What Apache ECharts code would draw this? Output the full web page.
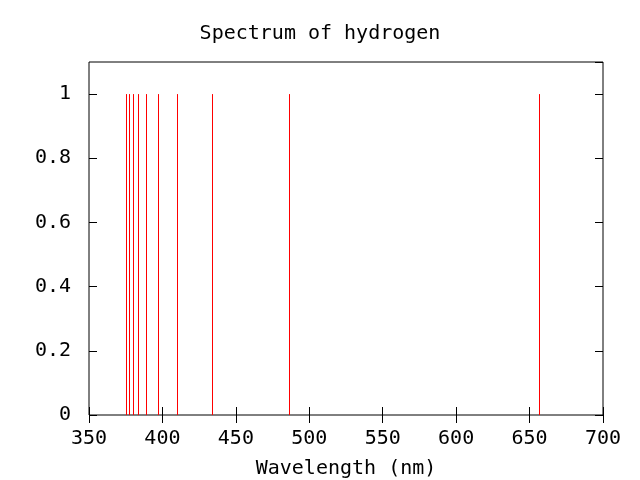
<!DOCTYPE html>
<html>
<head>
<meta charset="utf-8">
<script src="https://cdn.jsdelivr.net/npm/echarts@6/dist/echarts.min.js"></script>
<style>
    html, body { margin: 0; padding: 0; background: #fff; }
    #chart { width: 640px; height: 480px; }
</style>
</head>
<body>
<div id="chart"></div>
<script>
// Balmer lines (nm) and their relative height
const wavelengths = [656.3, 486.1, 434.0, 410.2, 397.0, 388.9, 383.5, 379.8, 377.1, 375.0];
const intensities = [1, 1, 1, 1, 1, 1, 1, 1, 1, 1];

const fontName = "DejaVu Sans Mono";
const fontSize = 20;

let lineData = [];
for (let i = 0; i < wavelengths.length; i++) {
    lineData.push([wavelengths[i], intensities[i]]);
}

// gnuplot style ticks: inward, on all four sides
function tickAxis(showLabels, margin, showMax) {
    return {
        axisLine: { show: false },
        axisTick: { show: true, inside: true, length: 8, lineStyle: { color: '#000', width: 1 } },
        axisLabel: {
            show: showLabels, margin: margin, showMaxLabel: showMax, showMinLabel: true,
            color: '#000', fontFamily: fontName, fontSize: fontSize,
        },
        splitLine: { show: false },
    };
}

var myChart = echarts.init(document.getElementById('chart'));
var option = {
    backgroundColor: '#fff',
    animation: false,
    title: {
        text: 'Spectrum of hydrogen',
        left: 'center',
        top: 19,
        textStyle: { color: '#000', fontFamily: fontName, fontSize: fontSize, fontWeight: 'normal' },
    },
    grid: {
        left: 89, right: 37, top: 62, bottom: 65,
        outerBoundsMode: 'none',
        containLabel: false,
        show: true, borderColor: '#000', borderWidth: 1,
    },
    xAxis: [
        Object.assign(tickAxis(true, 14, true), {
            type: 'value', min: 350, max: 700, interval: 50,
            name: 'Wavelength (nm)', nameLocation: 'middle', nameGap: 44,
            nameTextStyle: { color: '#000', fontFamily: fontName, fontSize: fontSize },
        }),
        Object.assign(tickAxis(false, 8, true), {
            type: 'value', position: 'top', min: 350, max: 700, interval: 50,
        }),
    ],
    yAxis: [
        Object.assign(tickAxis(true, 18, false), {
            type: 'value', min: 0, max: 1.1, interval: 0.2,
        }),
        Object.assign(tickAxis(false, 8, false), {
            type: 'value', position: 'right', min: 0, max: 1.1, interval: 0.2,
        }),
    ],
    series: [{
        type: 'custom',
        xAxisIndex: 0,
        yAxisIndex: 0,
        data: lineData,
        renderItem: function (params, api) {
            let base = api.coord([api.value(0), 0]);
            let tip = api.coord([api.value(0), api.value(1)]);
            let x = Math.round(base[0]) + 0.5;
            return {
                type: 'line',
                shape: { x1: x, y1: base[1], x2: x, y2: tip[1] },
                style: { stroke: '#ff0000', lineWidth: 1 },
            };
        },
    }],
};
myChart.setOption(option);
</script>
</body>
</html>
